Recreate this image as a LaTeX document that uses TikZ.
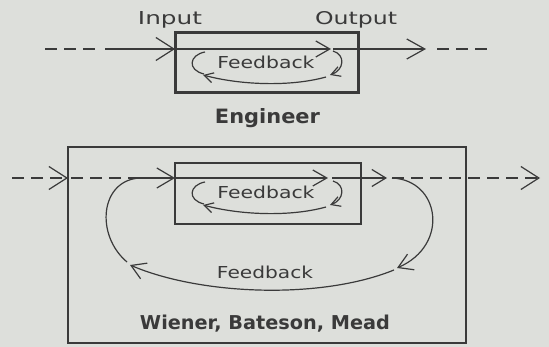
\documentclass[tikz,border=0pt]{standalone}
\usepackage{fontspec}
\setmainfont{DejaVu Sans}
\usetikzlibrary{arrows.meta,calc}
\definecolor{ink}{RGB}{58,58,58}
\definecolor{paper}{RGB}{221,223,219}
\newcommand\handtext[3]{\resizebox{#1}{#2}{#3}}
\begin{document}
\begin{tikzpicture}[x=1pt,y=-1pt,
  line/.style={draw=ink, line width=1.2pt},
  bigtip/.style={-{Straight Barb[length=18pt,width=23pt]}},
  midtip/.style={-{Straight Barb[length=14pt,width=16pt]}},
  smalltip/.style={-{Straight Barb[length=9pt,width=10pt]}},
  dashline/.style={dash pattern=on 12pt off 7pt},
  label/.style={text=ink, inner sep=0pt, anchor=base},
  thickbox/.style={draw=ink, line width=3pt, minimum width=183pt, minimum height=60pt, inner sep=0pt, outer sep=0pt},
  thinbox/.style={draw=ink, line width=1.2pt, inner sep=0pt, outer sep=0pt},
  fbloop/.pic={
    \draw[line,smalltip] (158,18) .. controls (171,22) and (169,37) .. (155,42);
    \draw[line,smalltip] (151,44) .. controls (115,54) and (65,52) .. (28,42);
    \draw[line] (30,19) .. controls (14,22) and (12,37) .. (29,41);
    \node[label] (-txt) at (91,36) {\handtext{97pt}{12.5pt}{Feedback}};
  }
]
\fill[paper] (0,0) rectangle (549,347);
\useasboundingbox (0,0) rectangle (549,347);

% ---------- top: Engineer ----------
\node[thickbox] (eng) at (266.5,63) {};
\pic (fbA) at (eng.north west) {fbloop};
\node[label] (input) at (170,25) {\handtext{64pt}{13pt}{Input}};
\node[label] (output) at (356,25) {\handtext{82pt}{13pt}{Output}};
\node[label] (engl) at (267.5,124) {\handtext{105pt}{15pt}{\bfseries Engineer}};

\coordinate (tA) at (45,49);
\coordinate (tB) at (97,49);
\coordinate (tC) at (105,49);
\coordinate (eIn) at ($(eng.north west)+(0,16)$);
\coordinate (eTip) at ($(eng.north west)+(156,16)$);
\coordinate (eOut) at ($(eng.north west)+(158,16)$);
\coordinate (tD) at (426,49);
\coordinate (tE) at (437,49);
\coordinate (tF) at (490,49);
\draw[line,dashline] (tA) -- (tB);
\draw[line,bigtip] (tC) -- (eIn);
\draw[line,midtip] (eIn) -- (eTip);
\draw[line,-{Straight Barb[length=18pt,width=20pt]}] (eOut) -- (tD);
\draw[line,dashline] (tE) -- (tF);

% ---------- bottom: Wiener, Bateson, Mead ----------
\node[thinbox, minimum width=398pt, minimum height=196pt] (outer) at (267,245) {};
\node[thinbox, minimum width=186pt, minimum height=61pt] (inner) at (268,193.5) {};
\pic (fbB) at (inner.north west) {fbloop};
\node[label] (wbm) at (265,330) {\handtext{250pt}{14.5pt}{\bfseries Wiener, Bateson, Mead}};
\node[label] (fbout) at (265,279) {\handtext{96pt}{12.5pt}{Feedback}};

\coordinate (bA) at (12,178);
\coordinate (oIn) at (outer.west |- bA);
\coordinate (bB) at (71,178);
\coordinate (bJ) at (140,178);
\coordinate (iIn) at (inner.west |- bA);
\coordinate (iTip) at (328,178);
\coordinate (iOut) at (332,178);
\coordinate (bC) at (387,178);
\coordinate (bD) at (392,178);
\coordinate (bE) at (540,178);
\coordinate (lpR) at (397,268);
\coordinate (lpRb) at (394,270);
\coordinate (lpL) at (130,265);
\coordinate (lpLb) at (127,262);

\draw[line,dashline,bigtip] (bA) -- (oIn);
\draw[line,dashline] (bB) -- (bJ);
\draw[line,-{Straight Barb[length=17pt,width=20pt]}] (bJ) -- (iIn);
\draw[line,midtip] (iIn) -- (iTip);
\draw[line,-{Straight Barb[length=14pt,width=17pt]}] (iOut) -- (bC);
\draw[line,dashline,bigtip] (bD) -- (bE);

% big feedback loop
\draw[line,-{Straight Barb[length=14pt,width=17pt]}] (bD) .. controls (440,180) and (450,245) .. (lpR);
\draw[line,-{Straight Barb[length=14pt,width=17pt]}] (lpRb) .. controls (320,300) and (200,295) .. (lpL);
\draw[line] (lpLb) .. controls (95,235) and (100,180) .. (bJ);
\end{tikzpicture}
\end{document}
